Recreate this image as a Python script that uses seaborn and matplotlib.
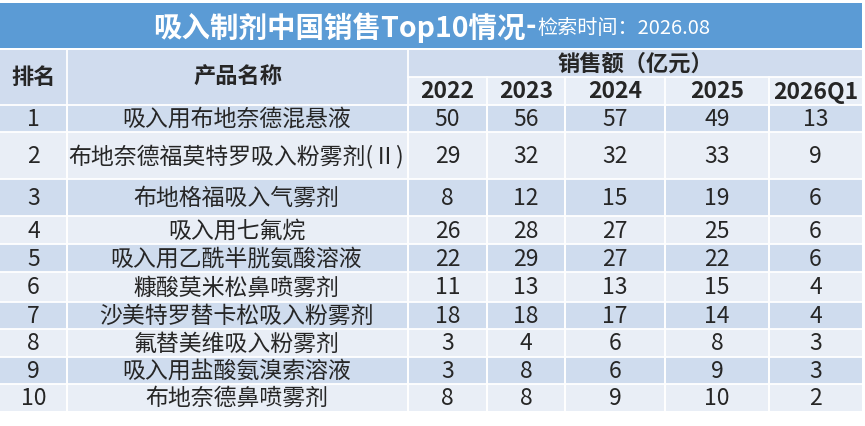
import numpy as np
import matplotlib
matplotlib.use("Agg")
import matplotlib.pyplot as plt
from matplotlib.colors import ListedColormap
from matplotlib.patches import Rectangle
import seaborn as sns

# ---------------- data ----------------
title_main = "吸入制剂中国销售Top10情况"
title_dash = "-"
title_sub = "检索时间：2026.08"
rank_header = "排名"
name_header = "产品名称"
value_header = "销售额（亿元）"
years = ["2022", "2023", "2024", "2025", "2026Q1"]
ranks = ["1", "2", "3", "4", "5", "6", "7", "8", "9", "10"]
products = [
    "吸入用布地奈德混悬液",
    "布地奈德福莫特罗吸入粉雾剂(Ⅱ)",
    "布地格福吸入气雾剂",
    "吸入用七氟烷",
    "吸入用乙酰半胱氨酸溶液",
    "糠酸莫米松鼻喷雾剂",
    "沙美特罗替卡松吸入粉雾剂",
    "氟替美维吸入粉雾剂",
    "吸入用盐酸氨溴索溶液",
    "布地奈德鼻喷雾剂",
]
v2022 = [50, 29, 8, 26, 22, 11, 18, 3, 3, 8]
v2023 = [56, 32, 12, 28, 29, 13, 18, 4, 8, 8]
v2024 = [57, 32, 15, 27, 27, 13, 17, 6, 6, 9]
v2025 = [49, 33, 19, 25, 22, 15, 14, 8, 9, 10]
v2026q1 = [13, 9, 6, 6, 6, 4, 4, 3, 3, 2]

# ---------------- layout (pixels) ----------------
col_edges = [0, 67, 408, 487, 565, 665, 769, 862]
row_edges = [105, 132, 179, 216, 244, 272, 302, 329, 357, 384, 411]
title_top, title_bot = 3, 48
head_top, head_mid, head_bot = 50, 77, 105

c_title = "#5B9BD5"
c_head = "#D0DCEE"
c_year = "#E8EEF7"
c_odd = "#CFDCEE"
c_even = "#E9EEF6"
c_text = "#262626"

sns.set_theme(style="white")
plt.rcParams["font.family"] = ["Noto Sans CJK SC", "DejaVu Sans"]

fig = plt.figure(figsize=(8.65, 4.26), dpi=100)
ax = fig.add_axes([0, 0, 1, 1])
ax.set_xlim(0, 865)
ax.set_ylim(426, 0)
ax.axis("off")

# title band
ax.add_patch(Rectangle((col_edges[0], title_top), col_edges[-1] - col_edges[0],
                       title_bot - title_top, facecolor=c_title, edgecolor="none"))
ty = (title_top + title_bot) / 2 + 2
t1 = ax.text(0, ty, title_main, fontsize=20.5, fontweight="bold", color="white",
             va="center", ha="left")
t2 = ax.text(0, ty, title_dash, fontsize=20.5, fontweight="bold", color="white",
             va="center", ha="left")
t3 = ax.text(0, ty + 1, title_sub, fontsize=14.5, color="white", va="center", ha="left")
fig.canvas.draw()
r = fig.canvas.get_renderer()
def wpx(t):
    return t.get_window_extent(renderer=r).width
w1, w2, w3 = wpx(t1), wpx(t2), wpx(t3)
x0 = 431 - (w1 + w2 + w3) / 2
t1.set_x(x0)
t2.set_x(x0 + w1)
t3.set_x(x0 + w1 + w2 + 1)

# header cells
hdr = np.array([[0, 0, 1, 1, 1, 1, 1], [0, 0, 2, 2, 2, 2, 2]])
ax.pcolormesh(col_edges, [head_top, head_mid, head_bot], hdr,
              cmap=ListedColormap([c_head, c_head, c_year]), vmin=0, vmax=2,
              edgecolor="none")
for xe in col_edges[1:-1]:
    if xe in (67, 408):
        ax.plot([xe, xe], [head_top, row_edges[-1]], color="white", lw=1.3)
    else:
        ax.plot([xe, xe], [head_mid, row_edges[-1]], color="white", lw=1.3)
ax.plot([408, 862], [head_mid, head_mid], color="white", lw=1.3)

hy = (head_top + head_bot) / 2
ax.text((col_edges[0] + col_edges[1]) / 2, hy, rank_header, fontsize=16,
        fontweight="bold", color=c_text, ha="center", va="center")
ax.text((col_edges[1] + col_edges[2]) / 2, hy, name_header, fontsize=16,
        fontweight="bold", color=c_text, ha="center", va="center")
ax.text((col_edges[2] + col_edges[-1]) / 2, (head_top + head_mid) / 2 + 1,
        value_header, fontsize=16, fontweight="bold", color=c_text,
        ha="center", va="center")
for i, y in enumerate(years):
    ax.text((col_edges[2 + i] + col_edges[3 + i]) / 2, (head_mid + head_bot) / 2 + 1,
            y, fontsize=16.5, fontweight="bold", color=c_text,
            ha="center", va="center")

# body
parity = np.array([[i % 2] * 7 for i in range(len(ranks))])
ax.pcolormesh(col_edges, row_edges, parity,
              cmap=ListedColormap([c_odd, c_even]), vmin=0, vmax=1,
              edgecolor="none")
for xe in col_edges[1:-1]:
    ax.plot([xe, xe], [head_bot, row_edges[-1]], color="white", lw=1.3)
for ye in row_edges[:-1]:
    ax.plot([col_edges[0], col_edges[-1]], [ye, ye], color="white", lw=1.3)

cols = [v2022, v2023, v2024, v2025, v2026q1]
for i in range(len(ranks)):
    yc = (row_edges[i] + row_edges[i + 1]) / 2 + 1
    ax.text((col_edges[0] + col_edges[1]) / 2, yc, ranks[i], fontsize=16.5,
            color=c_text, ha="center", va="center")
    ax.text((col_edges[1] + col_edges[2]) / 2 - 1, yc, products[i], fontsize=16.5,
            color=c_text, ha="center", va="center")
    for j, c in enumerate(cols):
        ax.text((col_edges[2 + j] + col_edges[3 + j]) / 2, yc, str(c[i]),
                fontsize=16.5, color=c_text, ha="center", va="center")

fig.savefig("out.png", dpi=100, facecolor="white")
